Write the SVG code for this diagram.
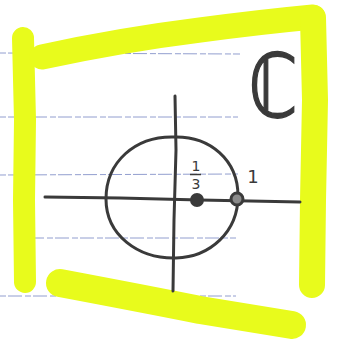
<svg xmlns="http://www.w3.org/2000/svg" width="344" height="347" viewBox="0 0 344 347">
<style>
.hl{fill:none;stroke:#e8fb1c;stroke-linecap:round;stroke-linejoin:round}
.rule{stroke:#6f7fc0;stroke-width:1;stroke-dasharray:6 2 14 3;opacity:0.75}
.ink{fill:none;stroke:#3a3a3a;stroke-width:3;stroke-linecap:round}
.t{font-family:"DejaVu Sans",sans-serif;fill:#3a3a3a}
</style>
<rect width="344" height="347" fill="#ffffff"/>
<g id="rules">
<line class="rule" x1="0" y1="53" x2="240" y2="54"/>
<line class="rule" x1="0" y1="117" x2="238" y2="117"/>
<line class="rule" x1="0" y1="175" x2="238" y2="174"/>
<line class="rule" x1="22" y1="238" x2="236" y2="238"/>
<line class="rule" x1="0" y1="296" x2="236" y2="296"/>
</g>
<g id="highlight">
<path class="hl" stroke-width="22" d="M23 38 L25 120 L24 200 L25 282"/>
<path class="hl" stroke-width="25" d="M42 57 Q120 40 200 30 Q260 22 313 17"/>
<path class="hl" stroke-width="26" d="M313 18 L315 100 L313 200 L312 285"/>
<path class="hl" stroke-width="28" d="M60 283 Q150 300 200 310 Q250 318 292 325"/>
</g>
<g id="axes">
<path class="ink" d="M45 197 L120 198 L200 200 L300 202"/>
<path class="ink" d="M175 96 L176 150 L174 220 L173 291"/>
</g>
<g id="circle">
<path class="ink" d="M174 137 C210 136 238 160 238 196 C238 232 210 257 176 258 C138 259 106 235 106 199 C106 162 135 136 174 137 Z"/>
</g>
<g id="points">
<circle cx="197" cy="200" r="6" fill="#3a3a3a" stroke="#3a3a3a" stroke-width="2"/>
<circle cx="237" cy="199" r="6" fill="#8a8a8a" stroke="#3a3a3a" stroke-width="3"/>
</g>
<g id="labels">
<text class="t" x="196" y="171" font-size="14" text-anchor="middle">1</text>
<line x1="190" y1="174.5" x2="201" y2="174.5" stroke="#3a3a3a" stroke-width="1.5"/>
<text class="t" x="196" y="189" font-size="14" text-anchor="middle">3</text>
<text class="t" x="253" y="183" font-size="18" text-anchor="middle">1</text>
<text class="t" x="273" y="117" font-size="88" text-anchor="middle" stroke="#3a3a3a" stroke-width="1.5" transform="translate(273 0) scale(0.8 1) translate(-273 0)">ℂ</text>
</g>
</svg>
